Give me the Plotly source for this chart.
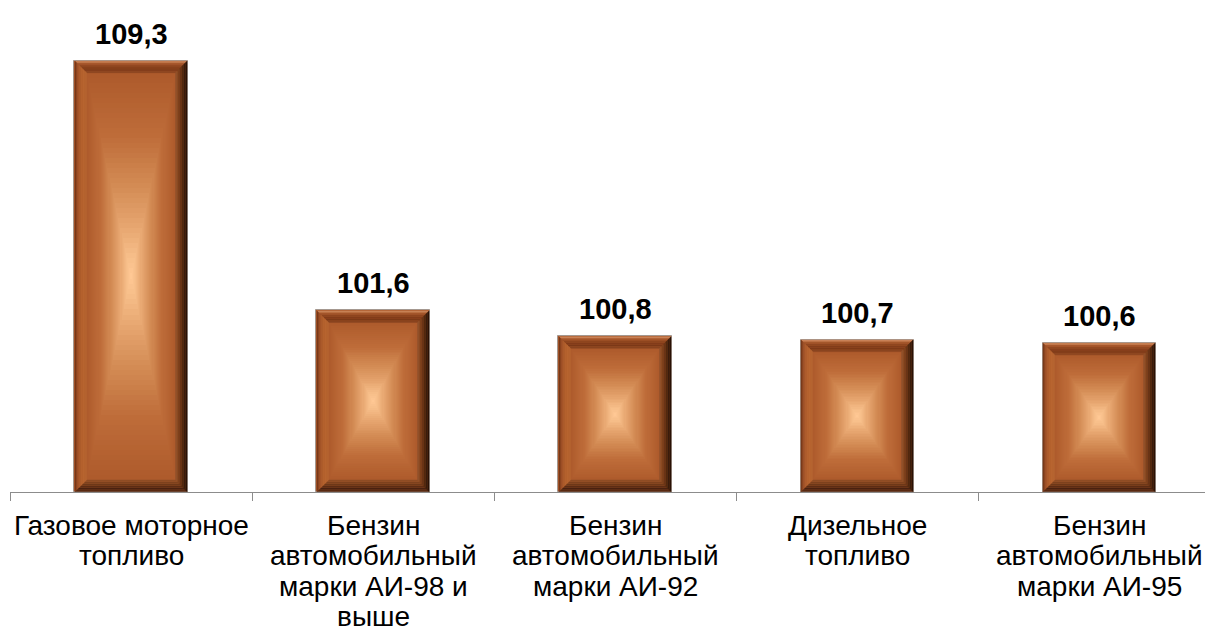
import plotly.graph_objects as go

# ---- data ----
categories = [
    "Газовое моторное\nтопливо",
    "Бензин\nавтомобильный\nмарки АИ-98 и\nвыше",
    "Бензин\nавтомобильный\nмарки АИ-92",
    "Дизельное\nтопливо",
    "Бензин\nавтомобильный\nмарки АИ-95",
]
values = [109.3, 101.6, 100.8, 100.7, 100.6]
value_labels = ["109,3", "101,6", "100,8", "100,7", "100,6"]

# ---- layout geometry (styling) ----
W, H = 1205, 632
ML, MR, MT, MB = 10, 0, 38, 140
YMIN, YMAX = 96, 110
XMIN, XMAX = -0.5, 4.438
BAR_W = 0.467
PX_X = (W - ML - MR) / (XMAX - XMIN)
PX_Y = (H - MT - MB) / (YMAX - YMIN)
HALF_PX = BAR_W * PX_X / 2
BEVEL = 12
FONT = "Arial, Liberation Sans, sans-serif"


def hex2rgb(h):
    h = h.lstrip('#')
    return tuple(int(h[i:i + 2], 16) for i in (0, 2, 4))


def ramp(stops, t):
    for (t0, c0), (t1, c1) in zip(stops, stops[1:]):
        if t <= t1:
            f = 0 if t1 == t0 else (t - t0) / (t1 - t0)
            a, b = hex2rgb(c0), hex2rgb(c1)
            return 'rgb(%d,%d,%d)' % tuple(round(a[i] + (b[i] - a[i]) * f) for i in range(3))
    return stops[-1][1]


inner_stops = [(0.0, '#AE5B2C'), (0.3, '#BE6C39'), (0.55, '#D38B54'),
               (0.75, '#E6A56F'), (0.9, '#F6BD88'), (1.0, '#FFC894')]

fig = go.Figure()

# concentric bars shrinking proportionally -> rectangular "from centre" gradient
N = 40
xs = list(range(len(values)))
for k in range(N + 1):
    t = k / N
    widths, bases, heights = [], [], []
    for v in values:
        half_h_px = (v - YMIN) * PX_Y / 2
        if k == 0:
            dx = dy = 0.0
        else:
            dx = BEVEL + (HALF_PX - BEVEL) * t * 0.985
            dy = BEVEL + (half_h_px - BEVEL) * t * 0.985
        widths.append(BAR_W - 2 * dx / PX_X)
        bases.append(YMIN + dy / PX_Y)
        heights.append((v - YMIN) - 2 * dy / PX_Y)
    col = ramp(inner_stops, t)
    fig.add_trace(go.Bar(
        x=xs, y=heights, base=bases, width=widths,
        marker=dict(color=col,
                    line=dict(width=1 if k == 0 else 0, color='#A49890')),
        hoverinfo='skip', showlegend=False,
    ))


def rect(i, v, d):
    return (i - BAR_W / 2 + d / PX_X, i + BAR_W / 2 - d / PX_X,
            YMIN + d / PX_Y, v - d / PX_Y)


bevel_cols = {
    'top': ['#C98257', '#A5572C', '#8F4620', '#833D1B', '#7D3A19', '#8A4520'],
    'bottom': ['#5A2A12', '#4A2210', '#5C2C14', '#6E3819', '#7E421E', '#8E4C24'],
    'left': ['#7A3A1A', '#9C5028', '#AC5C2D', '#B5632F', '#B86631', '#B56431'],
    'right': ['#2A1206', '#3A1C0C', '#52280F', '#6A3517', '#7E421D', '#90502A'],
}
nb = len(bevel_cols['top'])
step = BEVEL / nb
for side, cols in bevel_cols.items():
    for j, col in enumerate(cols):
        d0, d1 = j * step + 0.5, (j + 1) * step
        px, py = [], []
        for i, v in enumerate(values):
            l0, r0, b0, t0 = rect(i, v, d0)
            l1, r1, b1, t1 = rect(i, v, d1)
            if side == 'top':
                pts = [(l0, t0), (r0, t0), (r1, t1), (l1, t1)]
            elif side == 'bottom':
                pts = [(l0, b0), (r0, b0), (r1, b1), (l1, b1)]
            elif side == 'left':
                pts = [(l0, b0), (l0, t0), (l1, t1), (l1, b1)]
            else:
                pts = [(r0, b0), (r0, t0), (r1, t1), (r1, b1)]
            for p in pts + [pts[0]]:
                px.append(p[0]); py.append(p[1])
            px.append(None); py.append(None)
        fig.add_trace(go.Scatter(
            x=px, y=py, mode='lines', fill='toself', fillcolor=col,
            line=dict(width=0.5, color=col), hoverinfo='skip', showlegend=False,
        ))

# value labels
for i, (v, lab) in enumerate(zip(values, value_labels)):
    fig.add_annotation(x=i, y=v, xref='x', yref='y', text='<b>%s</b>' % lab,
                       showarrow=False, yanchor='middle', yshift=27,
                       font=dict(family=FONT, size=29, color='#000000'))

# category labels, one annotation per line (tight line spacing)
for i, cat in enumerate(categories):
    for k, line in enumerate(cat.split('\n')):
        fig.add_annotation(x=i, y=0, xref='x', yref='paper', text=line,
                           showarrow=False, yanchor='middle', yshift=-(33 + 30.5 * k),
                           font=dict(family=FONT, size=28, color='#000000'))

fig.update_layout(
    width=W, height=H, barmode='overlay', bargap=0,
    paper_bgcolor='white', plot_bgcolor='white',
    margin=dict(l=ML, r=MR, t=MT, b=MB),
    showlegend=False,
    xaxis=dict(range=[XMIN, XMAX], showgrid=False, zeroline=False,
               showline=True, linecolor='#8C8C8C', linewidth=1,
               tickvals=[x + 0.5 for x in range(-1, len(values))],
               ticks='outside', ticklen=8, tickcolor='#8C8C8C', tickwidth=1,
               showticklabels=False, fixedrange=True),
    yaxis=dict(range=[YMIN, YMAX], visible=False, fixedrange=True),
)

fig.write_html("out.html", config={'displayModeBar': False},
               post_script="document.body.style.margin='0';document.body.style.overflow='hidden';")
